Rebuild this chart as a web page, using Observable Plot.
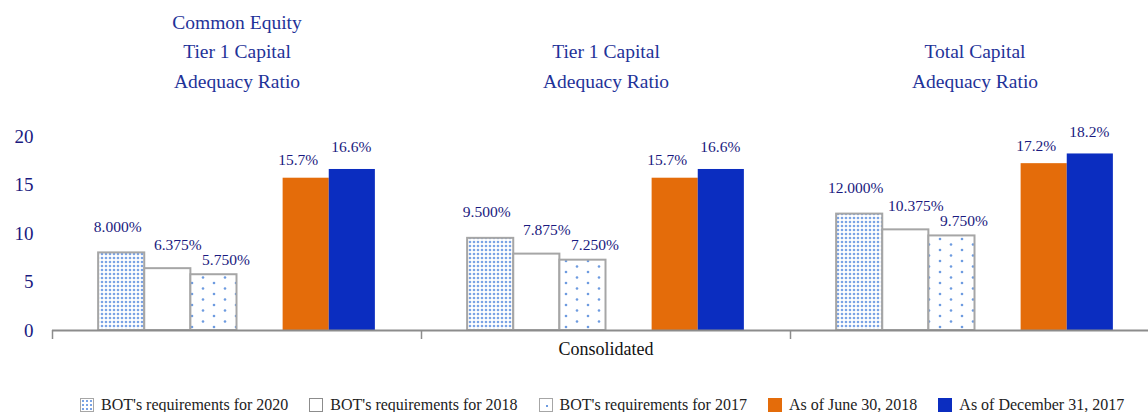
<!DOCTYPE html>
<html>
<head>
<meta charset="utf-8">
<script src="https://cdn.jsdelivr.net/npm/d3@7"></script>
<script src="https://cdn.jsdelivr.net/npm/@observablehq/plot@0.6"></script>
<style>
  html, body { margin: 0; padding: 0; background: #fff; overflow: hidden; width: 1148px; height: 412px; }
  #chart svg { overflow: visible; }
  .legend { display: flex; align-items: center; margin-left: 80px; margin-top: 3px; height: 20px; font-family: "Liberation Serif", "Times New Roman", serif; font-size: 16px; color: #222; white-space: nowrap; }
  .legend .item { display: flex; align-items: center; margin-right: 21px; }
  .legend .sw { width: 14px; height: 14px; margin-right: 7px; box-sizing: border-box; }
</style>
</head>
<body>
<div id="chart"></div>
<div class="legend" id="legend"></div>
<script>
// ---- data ----
const groups = ["Common Equity\nTier 1 Capital\nAdequacy Ratio", "Tier 1 Capital\nAdequacy Ratio", "Total Capital\nAdequacy Ratio"];
const series = ["BOT's requirements for 2020", "BOT's requirements for 2018", "BOT's requirements for 2017", "As of June 30, 2018", "As of December 31, 2017"];
const req2020 = [8.000, 9.500, 12.000];
const req2018 = [6.375, 7.875, 10.375];
const req2017 = [5.750, 7.250, 9.750];
const jun2018 = [15.7, 15.7, 17.2];
const dec2017 = [16.6, 16.6, 18.2];
const yTicks = [0, 5, 10, 15, 20];
const xAxisLabel = "Consolidated";

// ---- layout / style helpers ----
const slots = [1, 2, 3, 5, 6];          // position of each series inside a group of 8 slots
const slotsPerGroup = 8;
const decimals = [3, 3, 3, 1, 1];
const fills = ["url(#dense)", "#ffffff", "url(#sparse)", "#E46C0A", "#0B2DC0"];
const labelDx = [-4, 10, 12, -8, -1];
const labelDy = [-26, -24, -15, -18, -22];
const seriesValues = [req2020, req2018, req2017, jun2018, dec2017];

const rows = [];
groups.forEach((g, gi) => {
  series.forEach((s, si) => {
    const v = seriesValues[si][gi];
    rows.push({
      group: gi, series: s, si, value: v,
      x1: gi * slotsPerGroup + slots[si],
      x2: gi * slotsPerGroup + slots[si] + 1,
      label: v.toFixed(decimals[si]) + "%",
      fill: fills[si],
      req: si < 3
    });
  });
});
const titleRows = groups.map((g, gi) => ({ text: g, x: gi * slotsPerGroup + slotsPerGroup / 2 }));
const bounds = d3.range(groups.length + 1).map(i => i * slotsPerGroup);

const navy = "#1a1a80";
const titleBlue = "#1f3399";
const font = "Liberation Serif, Times New Roman, serif";

const labelMarks = series.map((s, si) =>
  Plot.text(rows.filter(d => d.si === si), {
    x: d => (d.x1 + d.x2) / 2, y: "value", text: "label",
    dx: labelDx[si], dy: labelDy[si], fill: navy, fontSize: 15.5, fontFamily: font
  })
);

const chart = Plot.plot({
  width: 1148,
  height: 392,
  marginTop: 136,
  marginBottom: 62,
  marginLeft: 52,
  marginRight: 0,
  style: { fontFamily: font, background: "white", overflow: "visible" },
  x: { type: "linear", domain: [0, groups.length * slotsPerGroup], range: [52, 1159], axis: null },
  y: { domain: [0, 20], ticks: yTicks, tickSize: 0, tickPadding: 19, label: null },
  marks: [
    Plot.axisY({ ticks: yTicks, tickSize: 0, tickPadding: 19, fontSize: 19, fontFamily: font, fill: navy, label: null, tickFormat: d => String(d) }),
    Plot.rectY(rows.filter(d => d.req), { x1: "x1", x2: "x2", y1: 0, y2: "value", fill: d => d.fill, stroke: "#a6a6a6", strokeWidth: 2 }),
    Plot.rectY(rows.filter(d => !d.req), { x1: "x1", x2: "x2", y1: 0, y2: "value", fill: d => d.fill }),
    Plot.ruleY([0], { x1: 0, x2: groups.length * slotsPerGroup, stroke: "#8c8c8c", strokeWidth: 2 }),
    Plot.ruleX(bounds, { x: d => d, y1: 0, y2: 0, insetBottom: -9, stroke: "#8c8c8c", strokeWidth: 1.5 }),
    ...labelMarks,
    Plot.text(titleRows, { x: "x", text: "text", frameAnchor: "top", lineAnchor: "bottom", dy: -49, lineHeight: 1.5, fill: titleBlue, fontSize: 19.5, fontFamily: font }),
    Plot.text([xAxisLabel], { x: groups.length * slotsPerGroup / 2, y: 0, text: d => d, dy: 19, fill: "#111", fontSize: 18, fontFamily: font })
  ]
});

// pattern definitions
const defs = `
<defs>
  <pattern id="dense" patternUnits="userSpaceOnUse" width="4" height="4">
    <rect width="4" height="4" fill="#ffffff"/>
    <circle cx="2" cy="2" r="1.3" fill="#7aa3e5"/>
  </pattern>
  <pattern id="sparse" patternUnits="userSpaceOnUse" width="22" height="11">
    <rect width="22" height="11" fill="#ffffff"/>
    <circle cx="5" cy="2.5" r="1.3" fill="#6d9be0"/>
    <circle cx="16" cy="8" r="1.3" fill="#6d9be0"/>
  </pattern>
</defs>`;
chart.insertAdjacentHTML("afterbegin", defs);
document.getElementById("chart").appendChild(chart);

// legend
const legendSw = [
  "background-color:#fff;background-image:radial-gradient(#7aa3e5 1px, transparent 1.4px);background-size:4px 4px;border:1px solid #a6a6a6;",
  "background:#fff;border:1px solid #8c8c8c;",
  "background-color:#fff;background-image:radial-gradient(#6d9be0 1px, transparent 1.4px);background-size:10px 10px;background-position:2px 2px;border:1px solid #a6a6a6;",
  "background:#E46C0A;",
  "background:#0B2DC0;"
];
const legend = document.getElementById("legend");
series.forEach((s, i) => {
  const item = document.createElement("div");
  item.className = "item";
  item.innerHTML = `<span class="sw" style="${legendSw[i]}"></span><span>${s}</span>`;
  legend.appendChild(item);
});
</script>
</body>
</html>
